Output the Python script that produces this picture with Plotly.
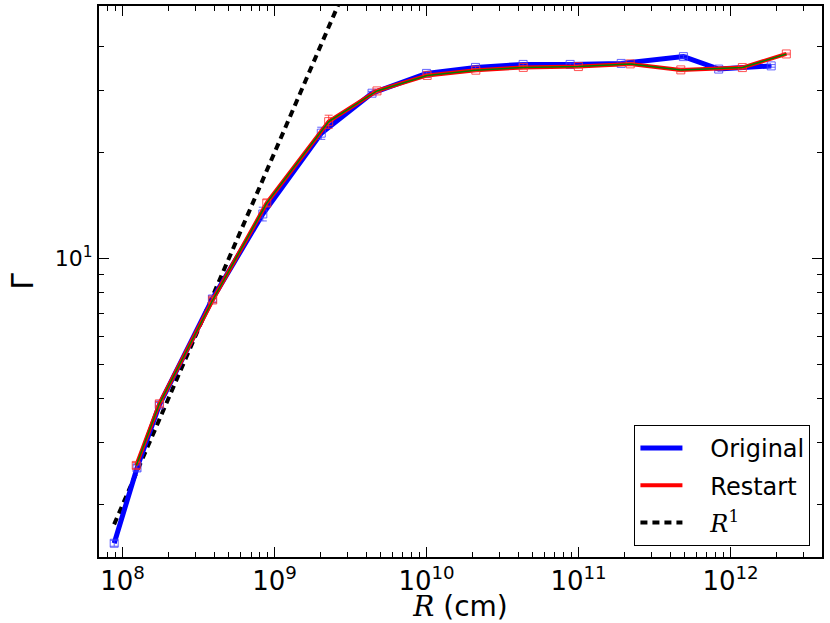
import plotly.graph_objects as go

# ---- data ----
orig_R = [8.81e7, 1.245e8, 1.746e8, 3.90e8, 8.37e8, 2.03e9, 4.38e9, 1.0e10, 2.10e10,
          4.32e10, 8.81e10, 1.91e11, 4.90e11, 8.36e11, 1.853e12]
orig_G = [1.556, 2.546, 3.843, 7.68, 13.39, 22.7, 29.48, 33.55, 34.89,
          35.58, 35.58, 35.81, 37.44, 34.51, 35.24]
orig_err = [0.03, 0.05, 0.06, 0.15, 0.6, 0.9, 0.35, 0.3, 0.3,
            0.35, 0.3, 0.35, 0.4, 0.35, 0.3]

rest_R = [1.23e8, 1.746e8, 3.92e8, 8.89e8, 2.27e9, 4.72e9, 1.01e10, 2.11e10,
          4.33e10, 9.98e10, 2.19e11, 4.71e11, 1.197e12, 2.33e12]
rest_G = [2.588, 3.87, 7.63, 14.39, 24.48, 29.92, 33.11, 34.26,
          34.89, 35.08, 35.7, 34.33, 34.85, 38.1]
rest_err = [0.05, 0.06, 0.12, 0.3, 1.05, 0.35, 0.3, 0.3,
            0.35, 0.3, 0.35, 0.4, 0.35, 0.2]

r1_R = [8.8e7, 3.0e9]
r1_G = [1.76, 60.0]

x_major = [1e8, 1e9, 1e10, 1e11, 1e12]
x_major_text = ["10<sup>8</sup>", "10<sup>9</sup>", "10<sup>10</sup>",
                "10<sup>11</sup>", "10<sup>12</sup>"]
x_minor = [m * 10 ** e for e in range(7, 13) for m in range(2, 10)]
y_major = [10]
y_major_text = ["10<sup>1</sup>"]
y_minor = [2, 3, 4, 5, 6, 7, 8, 9, 20, 30, 40]

FONT = "DejaVu Sans"
GAP = "&nbsp;&nbsp;&nbsp;"
R1_NAME = GAP + "<span style=\"font-family:'DejaVu Serif'\"><i>R</i><sup>1</sup></span>"

fig = go.Figure()

fig.add_trace(go.Scatter(x=r1_R, y=r1_G, mode="lines",
                         line=dict(color="black", width=4, dash="7px,5px"),
                         showlegend=False, hoverinfo="skip"))

# Original
fig.add_trace(go.Scatter(x=orig_R, y=orig_G, mode="lines", legendgroup="a",
                         line=dict(color="#0000ff", width=5), name=GAP + "Original"))
fig.add_trace(go.Scatter(x=orig_R, y=orig_G, mode="markers",
                         marker=dict(symbol="square-open", size=8, color="rgba(60,60,255,0.8)",
                                     line=dict(width=1)),
                         error_y=dict(type="data", array=orig_err, color="rgba(60,60,255,0.8)",
                                      thickness=1, width=4),
                         showlegend=False, hoverinfo="skip"))
# Restart
fig.add_trace(go.Scatter(x=rest_R, y=rest_G, mode="lines", legendgroup="b",
                         line=dict(color="#ff0000", width=4), name=GAP + "Restart"))
fig.add_trace(go.Scatter(x=rest_R, y=rest_G, mode="markers",
                         marker=dict(symbol="square-open", size=8, color="rgba(255,40,40,0.8)",
                                     line=dict(width=1)),
                         error_y=dict(type="data", array=rest_err, color="rgba(255,40,40,0.8)",
                                      thickness=1, width=4),
                         showlegend=False, hoverinfo="skip"))
fig.add_trace(go.Scatter(x=rest_R, y=rest_G, mode="lines",
                         line=dict(color="#008000", width=1.5), showlegend=False,
                         hoverinfo="skip"))

# legend entry for the dashed line
fig.add_trace(go.Scatter(x=[None], y=[None], mode="lines", legendgroup="c",
                         line=dict(color="black", width=4, dash="7px,5px"),
                         name=R1_NAME))

fig.update_layout(
    width=830, height=623,
    margin=dict(l=99, r=8, t=6, b=66, autoexpand=False),
    paper_bgcolor="white", plot_bgcolor="white",
    font=dict(family=FONT, color="black"),
    showlegend=True,
    legend=dict(x=0.984, y=0.02, xanchor="right", yanchor="bottom",
                bordercolor="black", borderwidth=1, bgcolor="white",
                itemwidth=42, tracegroupgap=3, traceorder="grouped",
                font=dict(size=24, family=FONT)),
)

fig.update_xaxes(
    type="log", range=[7.845, 12.602], automargin=False,
    tickmode="array", tickvals=x_major, ticktext=x_major_text,
    ticks="inside", ticklen=10, tickwidth=1, tickcolor="black",
    tickfont=dict(size=26, family=FONT),
    minor=dict(tickmode="array", tickvals=x_minor, ticks="inside", ticklen=5,
               tickcolor="black", tickwidth=1, showgrid=False),
    showline=True, linecolor="black", linewidth=2, mirror="allticks",
    showgrid=False, zeroline=False,
    title=dict(text="<span style=\"font-family:'DejaVu Serif'\"><i>R</i></span> (cm)",
               font=dict(size=28, family=FONT), standoff=5),
)
fig.update_yaxes(
    type="log", range=[0.153, 1.717], automargin=False,
    tickmode="array", tickvals=y_major, ticktext=y_major_text,
    ticks="inside", ticklen=10, tickwidth=1, tickcolor="black",
    tickfont=dict(size=22, family=FONT),
    minor=dict(tickmode="array", tickvals=y_minor, ticks="inside", ticklen=5,
               tickcolor="black", tickwidth=1, showgrid=False),
    showline=True, linecolor="black", linewidth=2, mirror="allticks",
    showgrid=False, zeroline=False,
    title=dict(text="Γ", font=dict(size=30, family=FONT), standoff=12),
)

fig.write_html("out.html", config={"displayModeBar": False},
               post_script="document.body.style.margin='0';document.body.style.overflow='hidden';")
